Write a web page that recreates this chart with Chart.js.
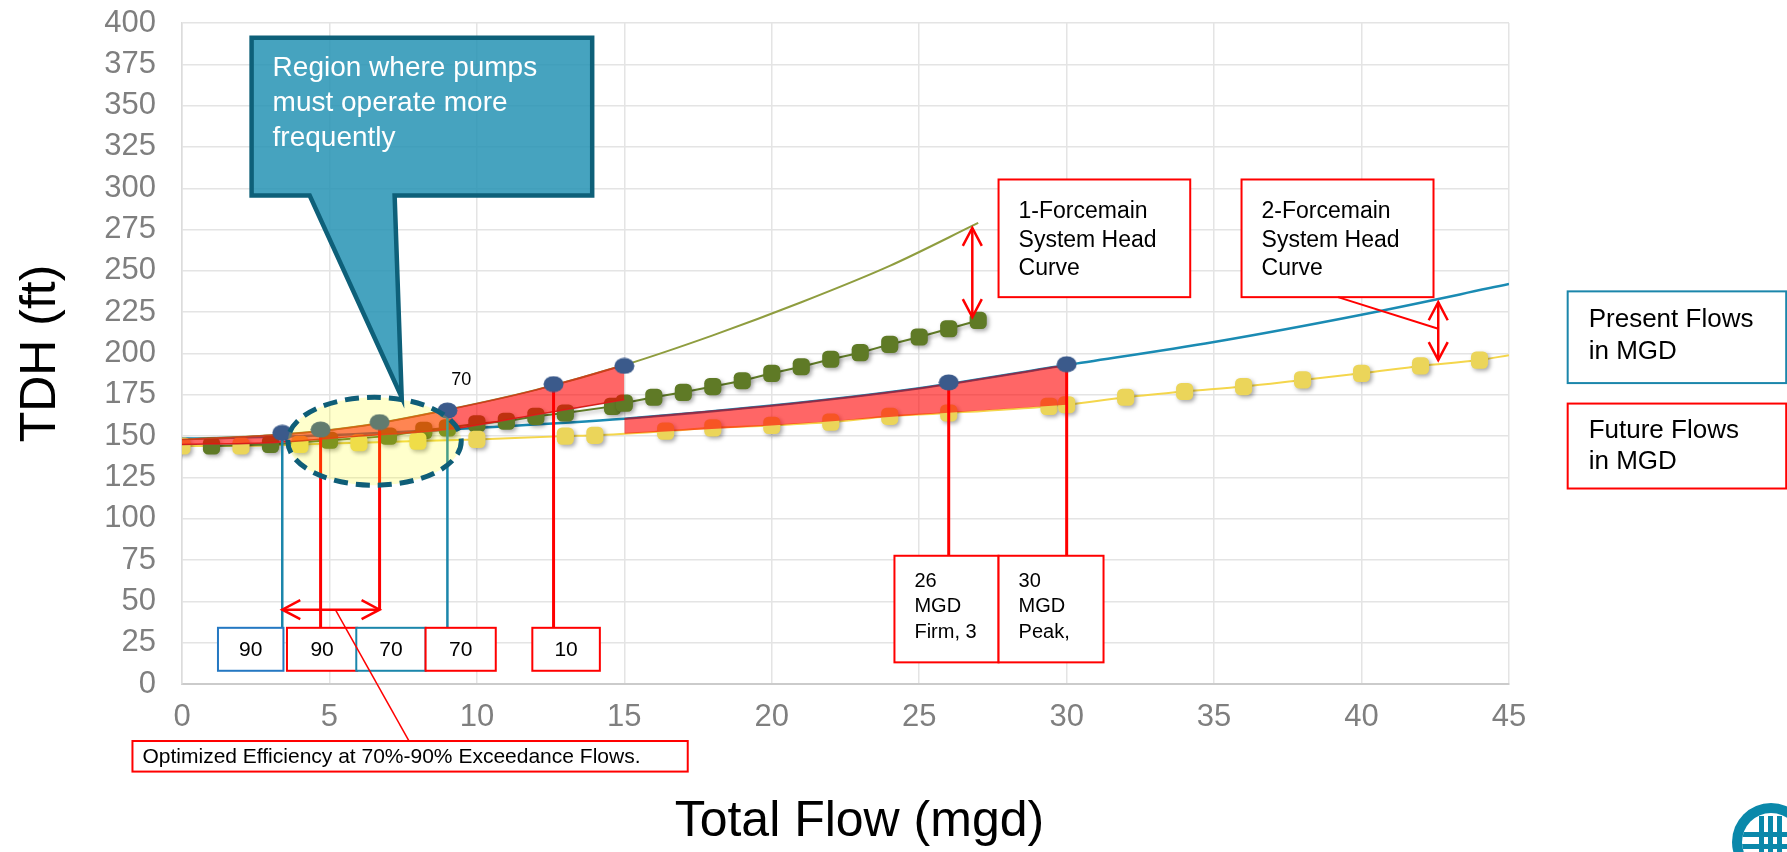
<!DOCTYPE html>
<html>
<head>
<meta charset="utf-8">
<title>TDH vs Total Flow</title>
<script src="https://cdn.jsdelivr.net/npm/chart.js@4.4.1/dist/chart.umd.min.js"></script>
<style>
  html, body { margin: 0; padding: 0; background: #fff; }
  #wrap { width: 1787px; height: 852px; }
</style>
</head>
<body>
<div id="wrap"><canvas id="grafico" width="1787" height="852"></canvas></div>
<script>
// ---- axis ticks ----
const xTickValues = [0, 5, 10, 15, 20, 25, 30, 35, 40, 45];
const yTickValues = [0, 25, 50, 75, 100, 125, 150, 175, 200, 225, 250, 275, 300, 325, 350, 375, 400];

// ---- 1-forcemain system head curve (thin olive line) ----
const oneFmX = [0, 3, 6, 9, 12, 15, 18, 21, 24, 27];
const oneFmY = [148, 150.5, 156, 166, 178, 193, 211, 231, 253, 279];

// ---- 2-forcemain system head curve (teal line) ----
const twoFmX = [0, 5, 10, 15, 20, 25, 30, 35, 40, 45];
const twoFmY = [148.5, 150.5, 155, 160.5, 168.5, 179, 193, 207, 223.5, 242];

// ---- dark olive square markers ----
const oliveSqX = [1, 3, 5, 7, 8.2, 9, 10, 11, 12, 13, 14.6, 15, 16, 17, 18, 19, 20, 21, 22, 23, 24, 25, 26, 27];
const oliveSqY = [144, 145, 147.5, 150, 153.5, 155, 157.5, 159, 162, 164, 168, 170, 173.5, 176.5, 180, 183.5, 188, 192, 196.5, 200.5, 205.5, 210, 215, 220];

// ---- yellow square markers (line runs on to x = 45) ----
const yellowSqX = [0, 2, 4, 6, 8, 10, 13, 14, 16.4, 18, 20, 22, 24, 26, 29.4, 30, 32, 34, 36, 38, 40, 42, 44];
const yellowSqY = [144, 144, 145, 146, 147, 148, 150, 150.5, 153, 155, 156.5, 158.5, 162, 164, 168, 169, 173.5, 177, 180, 184, 188, 192.5, 196];
const yellowEndX = 45;
const yellowEndY = 199;

// ---- red bands ----
const bandAX = [0, 3, 6, 9, 12, 15];
const bandATop = [148, 150.5, 156, 166, 178, 193];
const bandABottom = [145, 146, 150, 154, 163, 172];
const bandBX = [15, 20, 25, 30];
const bandBTop = [160.5, 168.5, 179, 193];
const bandBBottom = [151.5, 156.5, 163, 169];

// ---- flow points (navy dots) and where their drop lines end ----
const flowX = [3.4, 4.7, 6.7, 9, 12.6, 15, 26, 30];
const flowY = [152, 154, 158.5, 165.5, 181.5, 192.5, 182.5, 193.5];
const flowDropTo = [34, 34, 45, 34, 34, null, 77.6, 77.6];

const pts = (xs, ys) => xs.map((x, i) => ({ x: x, y: ys[i] }));

const FONT = '"Liberation Sans", Arial, Helvetica, sans-serif';
const RED = '#FF0000';
const TEAL = '#1B86AB';

// drop line colours, one per flow point
const dropColors = [TEAL, RED, RED, TEAL, RED, null, RED, RED];

// text boxes (data units)
const labelBoxes = [
  { x1: 1.22, x2: 3.44, y1: 34, y2: 8, color: '#2478C2', lines: ['90'], size: 21, center: true },
  { x1: 3.56, x2: 5.94, y1: 34, y2: 8, color: RED, lines: ['90'], size: 21, center: true },
  { x1: 5.91, x2: 8.26, y1: 34, y2: 8, color: TEAL, lines: ['70'], size: 21, center: true },
  { x1: 8.26, x2: 10.64, y1: 34, y2: 8, color: RED, lines: ['70'], size: 21, center: true },
  { x1: 11.88, x2: 14.17, y1: 34, y2: 8, color: RED, lines: ['10'], size: 21, center: true },
  { x1: 24.16, x2: 27.69, y1: 77.6, y2: 13.1, color: RED, lines: ['26', 'MGD', 'Firm, 3'], size: 20, padX: 20, base: 31, lh: 25.5 },
  { x1: 27.69, x2: 31.25, y1: 77.6, y2: 13.1, color: RED, lines: ['30', 'MGD', 'Peak,'], size: 20, padX: 20, base: 31, lh: 25.5 },
  { x1: 27.69, x2: 34.19, y1: 305.3, y2: 234.1, color: RED, lines: ['1-Forcemain', 'System Head', 'Curve'], size: 23, padX: 20, base: 39, lh: 28.5 },
  { x1: 35.93, x2: 42.44, y1: 305.3, y2: 234.1, color: RED, lines: ['2-Forcemain', 'System Head', 'Curve'], size: 23, padX: 20, base: 39, lh: 28.5 },
  { x1: 46.99, x2: 54.4, y1: 237.6, y2: 182.1, color: TEAL, lines: ['Present Flows', 'in MGD'], size: 26, padX: 21, base: 36, lh: 31.6 },
  { x1: 46.99, x2: 54.4, y1: 169.7, y2: 118.3, color: RED, lines: ['Future Flows', 'in MGD'], size: 26, padX: 21, base: 34, lh: 31.6 },
  { x1: -1.68, x2: 17.15, y1: -34.5, y2: -53, color: RED, lines: ['Optimized Efficiency at 70%-90% Exceedance Flows.'], size: 21, padX: 10, base: 22 }
];

const doubleArrows = [
  { x1: 3.4, y1: 45, x2: 6.7, y2: 45 },
  { x1: 26.8, y1: 276, x2: 26.8, y2: 222 },
  { x1: 42.6, y1: 231, x2: 42.6, y2: 196 }
];
const leaderLines = [
  { x1: 39.2, y1: 234.1, x2: 42.6, y2: 215, w: 2 },
  { x1: 5.2, y1: 45, x2: 7.7, y2: -34.5, w: 1.5 }
];
const callout = {
  x1: 2.36, x2: 13.91, y1: 391.1, y2: 295.6,
  baseL: 4.33, baseR: 7.21, tipX: 7.45, tipY: 173.5,
  lines: ['Region where pumps', 'must operate more', 'frequently']
};
const zone = { cx: 6.53, cy: 146.9, rx: 2.94, ry: 26.6 };
const pointLabel = { x: 9.47, y: 184, text: '70' };

// oval marker for the flow points
const dotImg = document.createElement('canvas');
dotImg.width = 21; dotImg.height = 17;
(function () {
  const c = dotImg.getContext('2d');
  c.fillStyle = '#3B5A8B';
  c.beginPath();
  c.ellipse(10.5, 8.5, 10, 8, 0, 0, Math.PI * 2);
  c.fill();
})();

function toPx(chart, x, y) {
  return [chart.scales.x.getPixelForValue(x), chart.scales.y.getPixelForValue(y)];
}

function chevron(ctx, tx, ty, dx, dy, len, half) {
  const bx = tx + dx * len, by = ty + dy * len;
  const nx = -dy, ny = dx;
  ctx.beginPath();
  ctx.moveTo(bx + nx * half, by + ny * half);
  ctx.lineTo(tx, ty);
  ctx.lineTo(bx - nx * half, by - ny * half);
  ctx.stroke();
}

function drawBox(ctx, chart, b) {
  const [x1, y1] = toPx(chart, b.x1, b.y1);
  const [x2, y2] = toPx(chart, b.x2, b.y2);
  ctx.fillStyle = '#fff';
  ctx.fillRect(x1, y1, x2 - x1, y2 - y1);
  ctx.strokeStyle = b.color;
  ctx.lineWidth = 2;
  ctx.strokeRect(x1, y1, x2 - x1, y2 - y1);
  ctx.fillStyle = '#000';
  ctx.font = b.size + 'px ' + FONT;
  if (b.center) {
    ctx.textAlign = 'center';
    ctx.textBaseline = 'middle';
    ctx.fillText(b.lines[0], (x1 + x2) / 2, (y1 + y2) / 2 + 1);
  } else {
    ctx.textAlign = 'left';
    ctx.textBaseline = 'alphabetic';
    b.lines.forEach((t, i) => ctx.fillText(t, x1 + b.padX, y1 + b.base + i * (b.lh || 0)));
  }
}

function drawLogo(ctx) {
  // partly cut-off globe badge in the corner
  const cx = 1771, cy = 842;
  ctx.save();
  ctx.fillStyle = '#0A88AA';
  ctx.beginPath(); ctx.arc(cx, cy, 39, 0, Math.PI * 2); ctx.fill();
  ctx.fillStyle = '#fff';
  ctx.beginPath(); ctx.arc(cx, cy, 29, 0, Math.PI * 2); ctx.fill();
  ctx.beginPath(); ctx.arc(cx, cy, 29, 0, Math.PI * 2); ctx.clip();
  ctx.fillStyle = '#0A88AA';
  [-12, -3, 6].forEach(dx => ctx.fillRect(cx + dx, cy - 26, 5, 60));
  ctx.fillRect(cx - 30, cy - 10, 60, 5);
  ctx.fillRect(cx - 30, cy + 2, 60, 5);
  ctx.restore();
}

const annotations = {
  id: 'annotations',
  beforeDatasetDraw(chart, args) {
    const ds = chart.data.datasets[args.index];
    const ctx = chart.ctx;
    ctx.save();
    if (ds.dropLines) {
      ctx.lineCap = 'butt';
      flowX.forEach((x, i) => {
        if (flowDropTo[i] === null) return;
        const [px, py1] = toPx(chart, x, flowY[i]);
        const [, py2] = toPx(chart, x, flowDropTo[i]);
        ctx.strokeStyle = dropColors[i];
        ctx.lineWidth = dropColors[i] === RED ? 3 : 2.5;
        ctx.beginPath(); ctx.moveTo(px, py1); ctx.lineTo(px, py2); ctx.stroke();
      });
    }
    if (ds.shadow) {
      ctx.shadowColor = 'rgba(0,0,0,0.35)';
      ctx.shadowBlur = 4;
      ctx.shadowOffsetX = 2;
      ctx.shadowOffsetY = 2;
    }
  },
  afterDatasetDraw(chart) {
    chart.ctx.restore();
  },
  afterDatasetsDraw(chart) {
    const ctx = chart.ctx;
    ctx.save();

    // highlighted operating zone
    const [ecx, ecy] = toPx(chart, zone.cx, zone.cy);
    const erx = Math.abs(chart.scales.x.getPixelForValue(zone.cx + zone.rx) - ecx);
    const ery = Math.abs(chart.scales.y.getPixelForValue(zone.cy + zone.ry) - ecy);
    ctx.beginPath();
    ctx.ellipse(ecx, ecy, erx, ery, 0, 0, Math.PI * 2);
    ctx.fillStyle = 'rgba(255,255,0,0.2)';
    ctx.fill();
    ctx.setLineDash([14, 8]);
    ctx.lineWidth = 5;
    ctx.strokeStyle = '#0F5E78';
    ctx.stroke();
    ctx.setLineDash([]);

    // label boxes
    labelBoxes.forEach(b => drawBox(ctx, chart, b));

    // arrows and leader lines
    ctx.strokeStyle = RED;
    ctx.lineCap = 'butt';
    ctx.lineJoin = 'miter';
    doubleArrows.forEach(a => {
      const [x1, y1] = toPx(chart, a.x1, a.y1);
      const [x2, y2] = toPx(chart, a.x2, a.y2);
      ctx.lineWidth = 2.5;
      ctx.beginPath(); ctx.moveTo(x1, y1); ctx.lineTo(x2, y2); ctx.stroke();
      const L = Math.hypot(x2 - x1, y2 - y1);
      const ux = (x2 - x1) / L, uy = (y2 - y1) / L;
      chevron(ctx, x1, y1, ux, uy, 18, 9.5);
      chevron(ctx, x2, y2, -ux, -uy, 18, 9.5);
    });
    leaderLines.forEach(l => {
      const [x1, y1] = toPx(chart, l.x1, l.y1);
      const [x2, y2] = toPx(chart, l.x2, l.y2);
      ctx.lineWidth = l.w;
      ctx.beginPath(); ctx.moveTo(x1, y1); ctx.lineTo(x2, y2); ctx.stroke();
    });

    // "70" point label
    const [lx, ly] = toPx(chart, pointLabel.x, pointLabel.y);
    ctx.fillStyle = '#000';
    ctx.font = '18px ' + FONT;
    ctx.textAlign = 'center';
    ctx.textBaseline = 'middle';
    ctx.fillText(pointLabel.text, lx, ly);

    // callout
    const [cx1, cy1] = toPx(chart, callout.x1, callout.y1);
    const [cx2, cy2] = toPx(chart, callout.x2, callout.y2);
    const [bl] = toPx(chart, callout.baseL, 0);
    const [br] = toPx(chart, callout.baseR, 0);
    const [tx, ty] = toPx(chart, callout.tipX, callout.tipY);
    ctx.beginPath();
    ctx.moveTo(cx1, cy1);
    ctx.lineTo(cx2, cy1);
    ctx.lineTo(cx2, cy2);
    ctx.lineTo(br, cy2);
    ctx.lineTo(tx, ty);
    ctx.lineTo(bl, cy2);
    ctx.lineTo(cx1, cy2);
    ctx.closePath();
    ctx.fillStyle = 'rgba(38,147,180,0.85)';
    ctx.fill();
    ctx.lineWidth = 4.5;
    ctx.strokeStyle = '#0E6079';
    ctx.stroke();
    ctx.fillStyle = '#fff';
    ctx.font = '28px ' + FONT;
    ctx.textAlign = 'left';
    ctx.textBaseline = 'alphabetic';
    callout.lines.forEach((t, i) => ctx.fillText(t, cx1 + 21, cy1 + 38 + i * 35));

    drawLogo(ctx);
    ctx.restore();
  }
};

const ctx = document.getElementById('grafico').getContext('2d');
new Chart(ctx, {
  type: 'line',
  data: {
    datasets: [
      { data: pts(oneFmX, oneFmY), borderColor: '#8F9D3F', borderWidth: 2, pointRadius: 0, cubicInterpolationMode: 'monotone', order: 5 },
      { data: pts(twoFmX, twoFmY), borderColor: '#1A8BB3', borderWidth: 2.5, pointRadius: 0, cubicInterpolationMode: 'monotone', order: 5 },
      { data: pts(yellowSqX.concat([yellowEndX]), yellowSqY.concat([yellowEndY])), borderColor: '#F4D64C', borderWidth: 2, pointRadius: 0, cubicInterpolationMode: 'monotone', order: 4 },
      { data: pts(yellowSqX, yellowSqY), showLine: false, pointStyle: 'rectRounded', pointRadius: 10, pointBackgroundColor: '#EBD55A', pointBorderWidth: 0, order: 3, shadow: true },
      { data: pts(oliveSqX, oliveSqY), borderColor: '#5F7A26', borderWidth: 2, pointStyle: 'rectRounded', pointRadius: 10, pointBackgroundColor: '#5F7A26', pointBorderWidth: 0, order: 3, shadow: true },
      { data: pts(bandAX, bandATop), fill: '+1', backgroundColor: 'rgba(255,0,0,0.6)', borderColor: '#C8401E', borderWidth: 1.5, pointRadius: 0, cubicInterpolationMode: 'monotone', order: 1 },
      { data: pts(bandAX, bandABottom), borderColor: '#C0302A', borderWidth: 1.5, pointRadius: 0, cubicInterpolationMode: 'monotone', order: 1 },
      { data: pts(bandBX, bandBTop), fill: '+1', backgroundColor: 'rgba(255,0,0,0.6)', borderColor: '#8B2D4A', borderWidth: 1.5, pointRadius: 0, cubicInterpolationMode: 'monotone', order: 1 },
      { data: pts(bandBX, bandBBottom), borderColor: 'rgba(0,0,0,0)', borderWidth: 0, pointRadius: 0, cubicInterpolationMode: 'monotone', order: 1 },
      { data: pts(flowX, flowY), showLine: false, pointStyle: dotImg, pointRadius: 9, order: 0, dropLines: true }
    ]
  },
  options: {
    responsive: false,
    animation: false,
    devicePixelRatio: 1,
    layout: { padding: { left: 0, right: 278, top: 23, bottom: 0 } },
    plugins: { legend: { display: false }, tooltip: { enabled: false } },
    scales: {
      x: {
        type: 'linear',
        min: 0,
        max: 45,
        afterBuildTicks: s => { s.ticks = xTickValues.map(v => ({ value: v })); },
        afterFit: s => { s.height = 168; },
        grid: { color: '#E4E4E4', lineWidth: 1.5, drawTicks: false },
        border: { color: '#CBCBCB', width: 2 },
        ticks: { color: '#7F7F7F', font: { family: FONT, size: 31 }, padding: 15, maxRotation: 0 },
        title: { display: true, text: '  Total Flow (mgd)', color: '#000', font: { family: FONT, size: 50 }, padding: { top: 0, bottom: 0 } }
      },
      y: {
        min: 0,
        max: 400,
        afterBuildTicks: s => { s.ticks = yTickValues.map(v => ({ value: v })); },
        afterFit: s => { s.width = 182; s.paddingTop = 0; s.paddingBottom = 0; },
        grid: { color: '#E4E4E4', lineWidth: 1.5, drawTicks: false },
        border: { color: '#DCDCDC', width: 1.5 },
        ticks: { color: '#7F7F7F', font: { family: FONT, size: 31 }, padding: 26 },
        title: { display: true, text: 'TDH (ft)', color: '#000', font: { family: FONT, size: 50 }, padding: { top: 11, bottom: 0 } }
      }
    }
  },
  plugins: [annotations]
});
</script>
</body>
</html>
